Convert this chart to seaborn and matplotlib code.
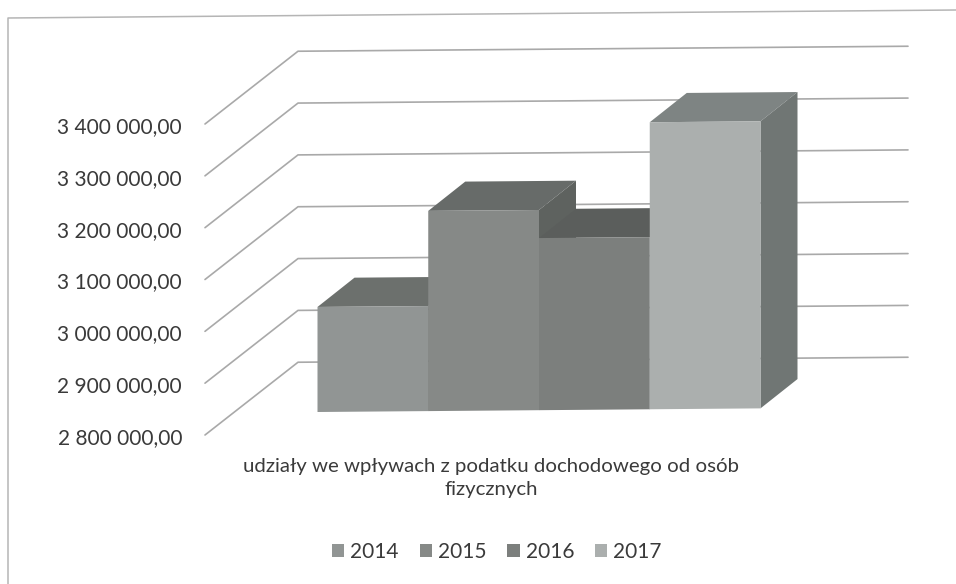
import matplotlib
matplotlib.use("Agg")
import matplotlib.pyplot as plt
import pandas as pd
import seaborn as sns
from matplotlib.lines import Line2D
from matplotlib.patches import Patch, Polygon
from matplotlib.ticker import FuncFormatter
from matplotlib.transforms import Affine2D

years = ["2014", "2015", "2016", "2017"]
values = [3002000, 3185000, 3131000, 3352000]
front_colors = ["#919594", "#868987", "#7c7f7d", "#abafae"]
top_colors = ["#6c706d", "#676b69", "#5b5e5c", "#7e8483"]
side_colors = ["#5e625f", "#5e625f", "#565957", "#707674"]
axis_ticks = [2800000, 2900000, 3000000, 3100000, 3200000, 3300000, 3400000]
title = "udziały we wpływach z podatku dochodowego od osób\nfizycznych"

W, H = 956, 584
BASE = 2800000
DEPTH = (37, 29)          # bar depth, px
WALL = (93, 72)           # side wall depth, px
SKEW = 0.0082             # slight rotation of the scanned page
TEXT = "#3a3a3a"
GRID = "#a9a9a9"

sns.set_theme(style="white")
plt.rcParams["font.family"] = ["Lato", "DejaVu Sans"]

fig = plt.figure(figsize=(W / 100, H / 100), dpi=100, facecolor="white")
ax = fig.add_axes([0, 0, 1, 1], facecolor="none")

df = pd.DataFrame({"year": years, "height": [v - BASE for v in values]})
sns.barplot(data=df, x="year", y="height", hue="year", hue_order=years,
            palette=front_colors, width=1.0, bottom=BASE, linewidth=0,
            saturation=1, ax=ax, legend=False)

# category axis and value axis of the front plane
unit = (760.5 - 317.5) / 4
xl = -0.5 - 317.5 / unit
ax.set_xlim(xl, xl + W / unit)
px_per_value = 52 / 100000
base_px = 412
ax.set_ylim(BASE - (H - base_px) / px_per_value, BASE + base_px / px_per_value)
ax.axis("off")

tilt = (Affine2D().translate(-318, 0)
        + Affine2D.from_values(1, SKEW, 0, 1, 0, 0)
        + Affine2D().translate(318, 0))

# value axis on the left wall
ax_w = fig.add_axes([205 / W, (H - 436) / H, 0.001, (436 - 125) / H], facecolor="none")
ax_w.set_ylim(axis_ticks[0], axis_ticks[-1])
ax_w.set_yticks(axis_ticks)
ax_w.yaxis.set_major_formatter(FuncFormatter(lambda v, _: f"{int(v):,}".replace(",", " ") + ",00"))
ax_w.set_xticks([])
ax_w.tick_params(axis="y", length=0, pad=16.5, labelsize=15, labelcolor=TEXT)
sns.despine(ax=ax_w, left=True, bottom=True)
fig.canvas.draw()

# gridlines: side wall then back wall (they start about 1 px above the label centre)
for v in axis_ticks:
    _, y0 = ax_w.transData.transform((0, v))
    y0 += 1.0 + SKEW * (318 - 205)
    pts = [(205, y0), (205 + WALL[0], y0 + WALL[1]), (908, y0 + WALL[1])]
    ln = Line2D(*zip(*pts), color=GRID, lw=1.2, transform=tilt, zorder=1)
    ax.add_artist(ln)

# depth faces of each bar
bars = sorted(ax.patches, key=lambda p: p.get_x())
for i, bar in enumerate(bars):
    x0, x1 = bar.get_x(), bar.get_x() + bar.get_width()
    p10 = ax.transData.transform((x1, BASE))
    p01 = ax.transData.transform((x0, values[i]))
    p11 = ax.transData.transform((x1, values[i]))
    dx, dy = DEPTH
    shift = lambda p: (p[0] + dx, p[1] + dy)
    ax.add_patch(Polygon([p01, p11, shift(p11), shift(p01)], closed=True, fc=top_colors[i],
                         ec="none", transform=tilt, zorder=3 + 2 * i))
    ax.add_patch(Polygon([p10, p11, shift(p11), shift(p10)], closed=True, fc=side_colors[i],
                         ec="none", transform=tilt, zorder=3 + 2 * i))
    bar.set_transform(ax.transData + tilt)
    bar.set_zorder(4 + 2 * i)

# axis title
ax.text(491 / W, 1 - 478 / H, title, transform=ax.transAxes, ha="center", va="center",
        fontsize=14.7, color=TEXT, linespacing=1.4)

# legend
handles = [Patch(fc=c, ec="none", label=y) for y, c in zip(years, front_colors)]
leg = ax.legend(handles=handles, ncol=4, loc="center", bbox_to_anchor=(497 / W, 1 - 552 / H),
                frameon=False, fontsize=15, handlelength=0.58, handleheight=0.58,
                handletextpad=0.3, columnspacing=1.0, labelcolor=TEXT)

# chart frame
fig.add_artist(Line2D([8, 8, W], [0, H - 18, H - 10], color="#b5b5b5", lw=1.1,
                      transform=Affine2D()))

fig.savefig("out.png", dpi=100, facecolor="white")
